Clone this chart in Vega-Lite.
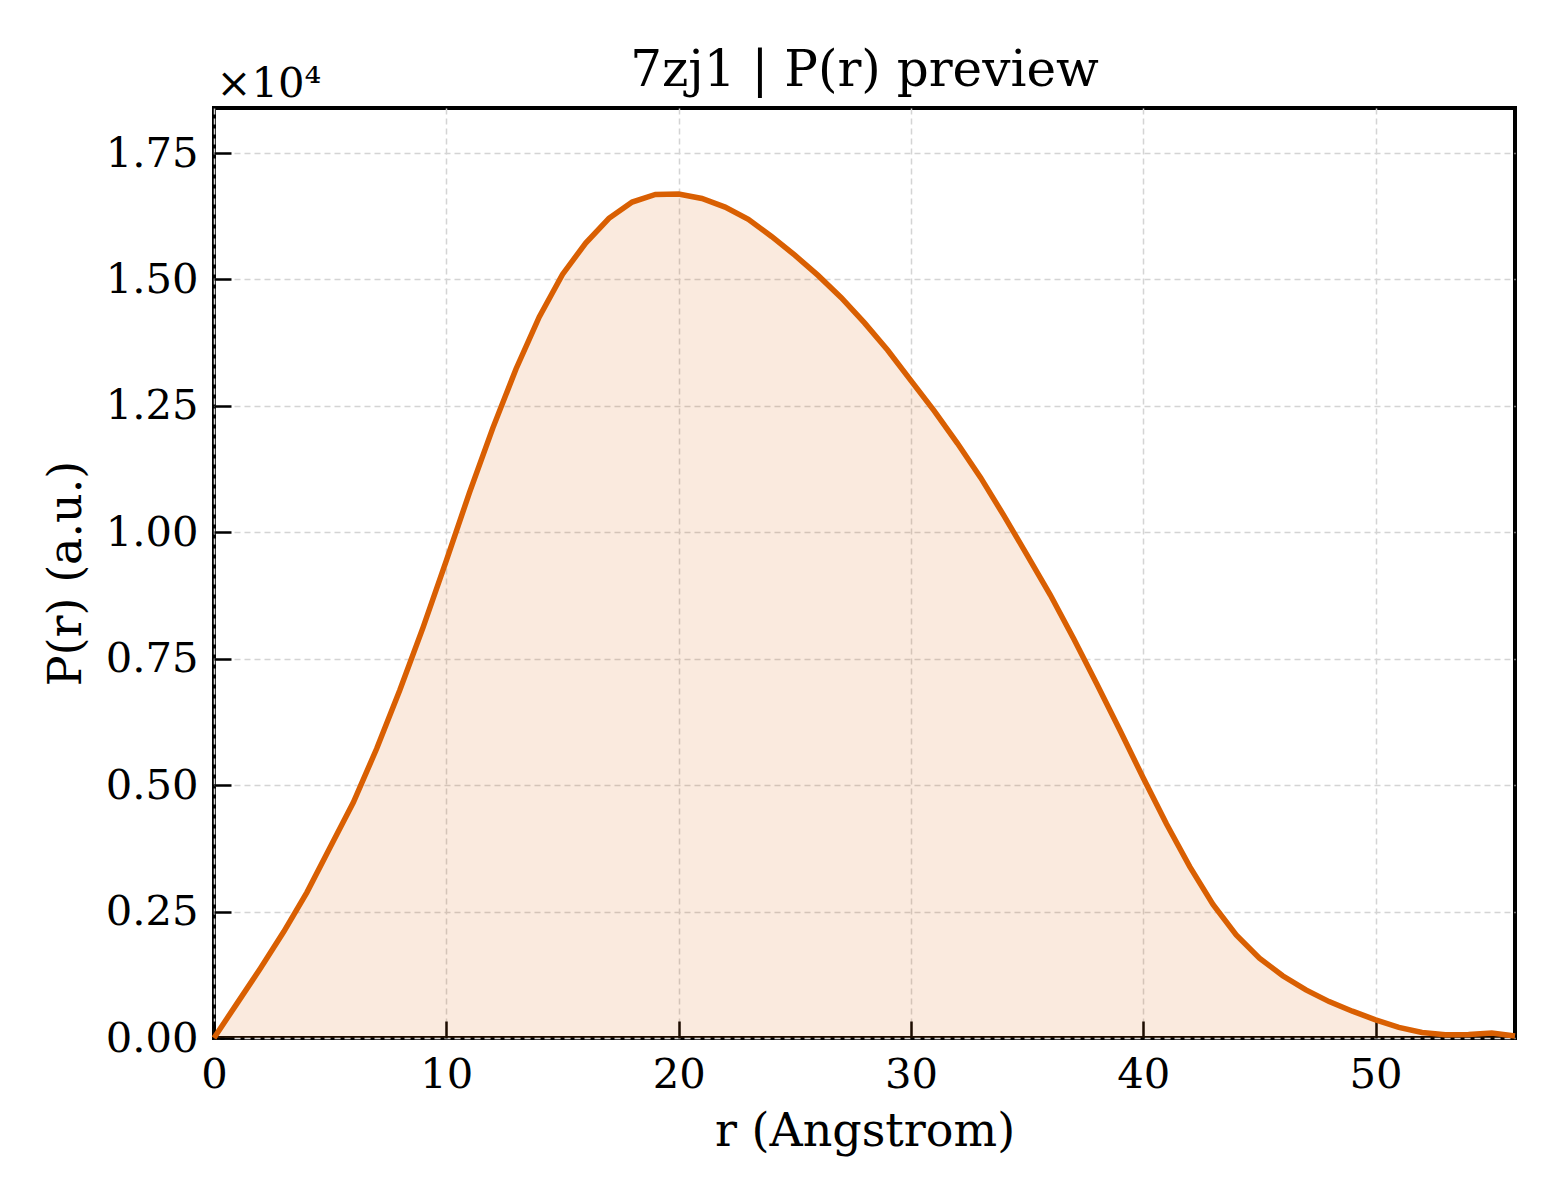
{
  "$schema": "https://vega.github.io/schema/vega-lite/v6.json",
  "description": "P(r) preview for 7zj1",
  "width": 1301,
  "height": 930,
  "autosize": {"type": "none"},
  "padding": {"left": 214, "top": 108, "right": 45, "bottom": 162},
  "background": "white",
  "title": {
    "text": "7zj1 | P(r) preview",
    "font": "DejaVu Serif",
    "fontSize": 50,
    "fontWeight": "normal",
    "color": "black",
    "anchor": "middle",
    "offset": -33
  },
  "data": {
    "values": [
      {"r": 0, "p": 0},
      {"r": 1, "p": 690},
      {"r": 2, "p": 1380},
      {"r": 3, "p": 2100},
      {"r": 4, "p": 2880},
      {"r": 5, "p": 3770},
      {"r": 6, "p": 4660},
      {"r": 7, "p": 5720},
      {"r": 8, "p": 6880},
      {"r": 9, "p": 8120},
      {"r": 10, "p": 9440},
      {"r": 11, "p": 10790},
      {"r": 12, "p": 12060},
      {"r": 13, "p": 13230},
      {"r": 14, "p": 14260},
      {"r": 15, "p": 15100},
      {"r": 16, "p": 15720},
      {"r": 17, "p": 16210},
      {"r": 18, "p": 16530},
      {"r": 19, "p": 16680},
      {"r": 20, "p": 16690},
      {"r": 21, "p": 16600},
      {"r": 22, "p": 16430},
      {"r": 23, "p": 16190},
      {"r": 24, "p": 15850},
      {"r": 25, "p": 15480},
      {"r": 26, "p": 15080},
      {"r": 27, "p": 14640},
      {"r": 28, "p": 14140},
      {"r": 29, "p": 13600},
      {"r": 30, "p": 13000},
      {"r": 31, "p": 12400},
      {"r": 32, "p": 11760},
      {"r": 33, "p": 11080},
      {"r": 34, "p": 10330},
      {"r": 35, "p": 9550},
      {"r": 36, "p": 8760},
      {"r": 37, "p": 7900},
      {"r": 38, "p": 7000},
      {"r": 39, "p": 6080},
      {"r": 40, "p": 5140},
      {"r": 41, "p": 4230},
      {"r": 42, "p": 3390},
      {"r": 43, "p": 2640},
      {"r": 44, "p": 2040},
      {"r": 45, "p": 1580},
      {"r": 46, "p": 1230},
      {"r": 47, "p": 950},
      {"r": 48, "p": 720},
      {"r": 49, "p": 530},
      {"r": 50, "p": 360},
      {"r": 51, "p": 210},
      {"r": 52, "p": 110},
      {"r": 53, "p": 65},
      {"r": 54, "p": 70},
      {"r": 55, "p": 100},
      {"r": 56, "p": 40}
    ]
  },
  "config": {
    "view": {"stroke": "black", "strokeWidth": 4},
    "axis": {
      "domain": false,
      "tickColor": "black",
      "tickWidth": 2.5,
      "tickSize": -17,
      "labelFont": "DejaVu Serif",
      "labelFontSize": 41.7,
      "labelColor": "black",
      "labelFlush": false,
      "titleFont": "DejaVu Serif",
      "titleFontSize": 46,
      "titleFontWeight": "normal",
      "titleColor": "black",
      "grid": true,
      "gridColor": "#d4d4d4",
      "gridDash": [6, 4],
      "gridWidth": 1.5
    }
  },
  "layer": [
    {
      "mark": {"type": "area", "color": "#d95f02", "opacity": 0.13},
      "encoding": {
        "x": {
          "field": "r",
          "type": "quantitative",
          "scale": {"domain": [0, 56], "nice": false},
          "axis": {
            "orient": "bottom",
            "values": [0, 10, 20, 30, 40, 50],
            "title": "r (Angstrom)",
            "labelPadding": 33,
            "titlePadding": 14
          }
        },
        "y": {
          "field": "p",
          "type": "quantitative",
          "scale": {"domain": [0, 18390], "nice": false},
          "axis": {
            "values": [0, 2500, 5000, 7500, 10000, 12500, 15000, 17500],
            "labelExpr": "format(datum.value / 10000, '.2f')",
            "title": "P(r) (a.u.)",
            "labelPadding": 33,
            "titlePadding": 15
          }
        }
      }
    },
    {
      "mark": {"type": "line", "color": "#d95f02", "strokeWidth": 5.5},
      "encoding": {
        "x": {"field": "r", "type": "quantitative", "axis": null},
        "y": {"field": "p", "type": "quantitative"}
      }
    },
    {
      "mark": {"type": "line", "opacity": 0},
      "encoding": {
        "x": {
          "field": "r",
          "type": "quantitative",
          "axis": {
            "orient": "top",
            "labels": false,
            "ticks": false,
            "grid": false,
            "title": "×10⁴",
            "titleFontSize": 41.7,
            "titleAngle": 0,
            "titleAnchor": "start",
            "titleAlign": "left",
            "titleBaseline": "alphabetic",
            "titleX": 2,
            "titleY": -12
          }
        },
        "y": {"field": "p", "type": "quantitative"}
      }
    }
  ],
  "resolve": {"axis": {"x": "independent"}}
}
